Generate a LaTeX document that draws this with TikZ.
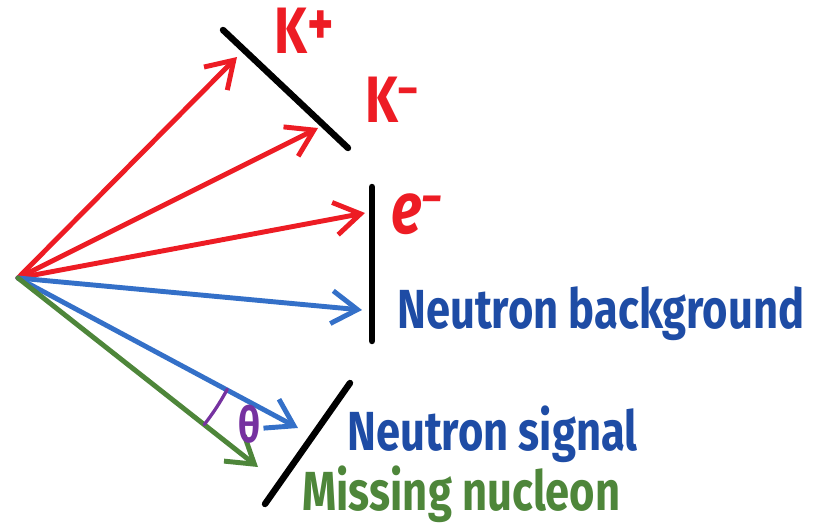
\documentclass[tikz,border=0pt]{standalone}
\usepackage{fontspec}
\setmainfont{Fira Sans}[FakeStretch=0.79]
\usetikzlibrary{arrows.meta}
\definecolor{kred}{RGB}{237,28,36}
\definecolor{nblue}{RGB}{52,112,200}
\definecolor{tblue}{RGB}{30,76,165}
\definecolor{mgreen}{RGB}{78,134,58}
\definecolor{tpurple}{RGB}{118,50,160}
\newcommand{\chargesup}[3]{\raisebox{#1}{\fontsize{#2}{#2}\selectfont\bfseries #3}}
\begin{document}
\begin{tikzpicture}[x=0.03cm, y=-0.03cm, >={Straight Barb[length=22pt, width=28pt]},
    line width=4.2pt, line cap=round,
    lbl/.style={font=\fontsize{47}{50}\selectfont\bfseries, inner sep=0pt, anchor=base west},
    big/.style={font=\fontsize{56}{60}\selectfont\bfseries},
    wall/.style={line width=5.5pt}]
    \useasboundingbox (0,0) rectangle (833,528);

    % Source point and arrow tips
    \coordinate (src) at (18,278);
    \coordinate (kp) at (237,57);
    \coordinate (km) at (318,128);
    \coordinate (el) at (365,213);
    \coordinate (nb) at (362,310);
    \coordinate (ns) at (298,428);
    \coordinate (mn) at (258,467);

    % Kaons and electron
    \draw[->, kred] (src) -- (kp);
    \draw[->, kred] (src) -- (km);
    \draw[->, kred] (src) -- (el);

    % Neutrons
    \draw[->, nblue] (src) -- (nb);
    \draw[->, nblue] (src) -- (ns);

    % Missing nucleon
    \draw[->, mgreen] (src) -- (mn);

    % Detectors
    \draw[wall] (223,30) -- (348,148);
    \draw[wall] (372,187) -- (372,341);
    \draw[wall] (350,383) -- (265,504);

    % Angle theta
    \draw[tpurple, line width=2.8pt] (src) ++(28:237) arc[start angle=-28, end angle=-38.2, radius=7.11cm];
    \node[lbl, tpurple, font=\fontsize{42}{44}\selectfont\bfseries] (theta) at (236,442) {θ};

    % Labels
    \node[lbl, big, kred] (kplus) at (272,53) {K\chargesup{6pt}{54}{+}};
    \node[lbl, big, kred] (kminus) at (363,122) {K\chargesup{14pt}{40}{–}};
    \node[lbl, big, kred, font=\fontsize{62}{64}\selectfont\bfseries\itshape] (elec) at (389,233) {e\chargesup{17pt}{40}{–}};
    \node[lbl, tblue] (nback) at (395,328) {Neutron background};
    \node[lbl, tblue] (nsig) at (345,450) {Neutron signal};
    \node[lbl, mgreen] (miss) at (300,510) {Missing nucleon};
\end{tikzpicture}
\end{document}
